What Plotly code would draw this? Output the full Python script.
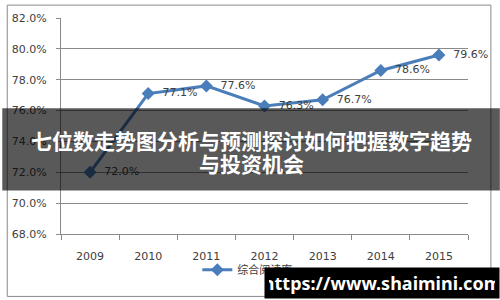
import plotly.graph_objects as go

years = ["2009", "2010", "2011", "2012", "2013", "2014", "2015"]
rates = [72.0, 77.1, 77.6, 76.3, 76.7, 78.6, 79.6]
series_name = "综合阅读率"
title_lines = ["七位数走势图分析与预测探讨如何把握数字趋势", "与投资机会"]
watermark = "https://www.shaimini.com"

W, H = 500, 300
L, R, T, B = 59, 32, 16, 66
PW, PH = W - L - R, H - T - B


def px(x):
    return (x - L) / PW


def py(y):
    return (H - B - y) / PH


labels = ["\u00a0\u00a0" + f"{v:.1f}%" for v in rates]

fig = go.Figure()
fig.add_trace(go.Scatter(
    x=years, y=rates, name=series_name,
    mode="lines+markers+text",
    text=labels, textposition="middle right",
    textfont=dict(family="DejaVu Sans", size=11, color="#404040"),
    line=dict(color="#4A7EBB", width=3),
    marker=dict(symbol="diamond", size=10, color="#4A7EBB"),
    cliponaxis=False,
))

fig.update_layout(
    width=W, height=H,
    margin=dict(l=L, r=R, t=T, b=B),
    paper_bgcolor="white", plot_bgcolor="white",
    font=dict(family="DejaVu Sans", size=11, color="#404040"),
    showlegend=True,
    legend=dict(orientation="h", x=px(196), y=py(270), xanchor="left", yanchor="middle",
                font=dict(family="Noto Sans CJK SC", size=11, color="#404040"),
                bgcolor="rgba(0,0,0,0)"),
    xaxis=dict(type="category", range=[-0.5, 6.5], showgrid=False,
               showline=True, linecolor="#8a8a8a", linewidth=1,
               ticks="outside", tickson="boundaries", ticklen=5, tickcolor="#8a8a8a",
               ticklabelstandoff=12,
               tickfont=dict(family="DejaVu Sans", size=11, color="#404040")),
    yaxis=dict(range=[68, 82], dtick=2, tick0=68, tickformat=".1f", ticksuffix="%",
               showgrid=True, gridcolor="#8a8a8a", gridwidth=1, zeroline=False,
               showline=True, linecolor="#8a8a8a", linewidth=1,
               ticks="outside", ticklen=4, tickcolor="#8a8a8a",
               ticklabelstandoff=7,
               tickfont=dict(family="DejaVu Sans", size=11, color="#404040")),
)

# outer chart border
fig.add_shape(type="rect", xref="paper", yref="paper",
              x0=px(5), x1=px(491), y0=py(297), y1=py(3),
              line=dict(color="#8a8a8a", width=1), fillcolor="rgba(0,0,0,0)", layer="below")

# dark overlay band
fig.add_shape(type="rect", xref="paper", yref="paper",
              x0=px(0), x1=px(500), y0=py(190), y1=py(107),
              line=dict(width=0), fillcolor="rgba(0,0,0,0.65)", layer="above")

for i, (line, yy) in enumerate(zip(title_lines, [139, 162])):
    fig.add_annotation(xref="paper", yref="paper", x=px(250), y=py(yy),
                       text=f"<b>{line}</b>", showarrow=False,
                       xanchor="center", yanchor="middle",
                       font=dict(family="Noto Sans CJK SC", size=21, color="white"))

# watermark
fig.add_annotation(xref="paper", yref="paper", x=px(500), y=py(300),
                   text=f"<b>{watermark}</b>", showarrow=False,
                   xanchor="right", yanchor="bottom",
                   bgcolor="black", borderpad=4, width=226, height=22,
                   font=dict(family="Noto Sans", size=18, color="white"))

fig.write_html("out.html")
